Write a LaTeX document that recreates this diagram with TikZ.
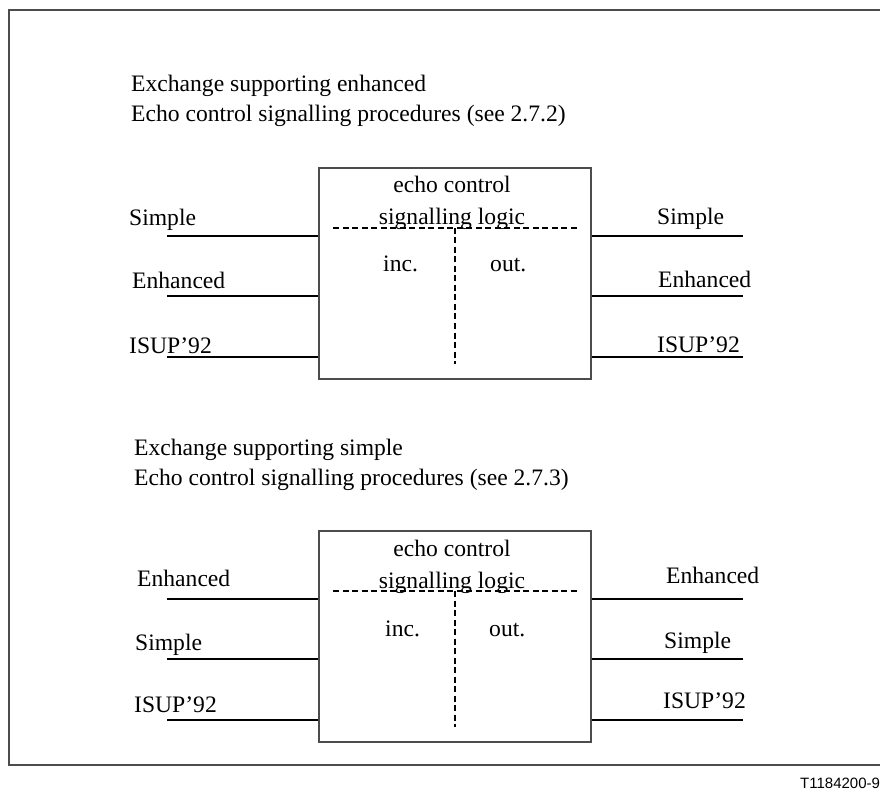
\documentclass[tikz,border=0pt]{standalone}
\usepackage{fontspec}
\setmainfont{Liberation Serif}
\newfontfamily\labsans{Liberation Sans}
\begin{document}
\begin{tikzpicture}[x=1pt,y=-1pt,
  frameline/.style={draw=black!70,line width=1.8pt},
  boxshape/.style={draw=black!70,line width=1.8pt,minimum width=272pt,minimum height=211pt,inner sep=0pt},
  wire/.style={draw=black,line width=2pt},
  divider/.style={draw=black,line width=1.8pt,dash pattern=on 6pt off 3.5pt},
  txt/.style={inner sep=0pt,anchor=base west,font=\fontsize{23.6}{30}\selectfont},
  ctxt/.style={inner sep=0pt,anchor=base,font=\fontsize{23.6}{30}\selectfont}]
\useasboundingbox (0,0) rectangle (880,791);
\clip (0,0) rectangle (880,791);
\fill[white] (0,0) rectangle (880,791);
% outer frame
\draw[frameline] (900,10) -- (9,10) -- (9,765) -- (900,765);
\node[inner sep=0pt,anchor=base west,font=\labsans\fontsize{15}{18}\selectfont] (code) at (800,788) {T1184200-9};

% ---------- upper block ----------
\node[txt] (t1a) at (131,92) {Exchange supporting enhanced};
\node[txt] (t1b) at (131,122) {Echo control signalling procedures (see 2.7.2)};
\node[boxshape] (box1) at (455,273.5) {};
\node[ctxt] (b1a) at (452,193) {echo control};
\node[ctxt] (b1b) at (452,225) {signalling logic};
\coordinate (d1l) at (333,228);
\coordinate (d1r) at (577,228);
\coordinate (d1t) at (455,228);
\coordinate (d1b) at (455,364);
\draw[divider] (d1l) -- (d1r);
\draw[divider] (d1t) -- (d1b);
\node[txt] (inc1) at (383,272) {inc.};
\node[txt] (out1) at (490,272) {out.};
\coordinate (l1a) at (167,236);
\coordinate (l1b) at (167,296);
\coordinate (l1c) at (167,357);
\coordinate (r1a) at (743,236);
\coordinate (r1b) at (743,296);
\coordinate (r1c) at (743,357);
\draw[wire] (l1a) -- (l1a -| box1.west);
\draw[wire] (l1b) -- (l1b -| box1.west);
\draw[wire] (l1c) -- (l1c -| box1.west);
\draw[wire] (box1.east |- r1a) -- (r1a);
\draw[wire] (box1.east |- r1b) -- (r1b);
\draw[wire] (box1.east |- r1c) -- (r1c);
\node[txt] (ls1) at (129,226) {Simple};
\node[txt] (le1) at (132,289) {Enhanced};
\node[txt] (li1) at (129,353) {ISUP'92};
\node[txt] (rs1) at (657,225) {Simple};
\node[txt] (re1) at (658,288) {Enhanced};
\node[txt] (ri1) at (657,352) {ISUP'92};

% ---------- lower block ----------
\node[txt] (t2a) at (134,455) {Exchange supporting simple};
\node[txt] (t2b) at (134,485) {Echo control signalling procedures (see 2.7.3)};
\node[boxshape] (box2) at (455,636.5) {};
\node[ctxt] (b2a) at (452,556) {echo control};
\node[ctxt] (b2b) at (452,588) {signalling logic};
\coordinate (d2l) at (333,591);
\coordinate (d2r) at (577,591);
\coordinate (d2t) at (455,591);
\coordinate (d2b) at (455,727);
\draw[divider] (d2l) -- (d2r);
\draw[divider] (d2t) -- (d2b);
\node[txt] (inc2) at (385,636) {inc.};
\node[txt] (out2) at (489,636) {out.};
\coordinate (l2a) at (167,599);
\coordinate (l2b) at (167,659);
\coordinate (l2c) at (167,720);
\coordinate (r2a) at (743,599);
\coordinate (r2b) at (743,659);
\coordinate (r2c) at (743,720);
\draw[wire] (l2a) -- (l2a -| box2.west);
\draw[wire] (l2b) -- (l2b -| box2.west);
\draw[wire] (l2c) -- (l2c -| box2.west);
\draw[wire] (box2.east |- r2a) -- (r2a);
\draw[wire] (box2.east |- r2b) -- (r2b);
\draw[wire] (box2.east |- r2c) -- (r2c);
\node[txt] (le2) at (137,586) {Enhanced};
\node[txt] (ls2) at (135,650) {Simple};
\node[txt] (li2) at (134,712) {ISUP'92};
\node[txt] (re2) at (666,583) {Enhanced};
\node[txt] (rs2) at (664,648) {Simple};
\node[txt] (ri2) at (663,708) {ISUP'92};
\end{tikzpicture}
\end{document}
